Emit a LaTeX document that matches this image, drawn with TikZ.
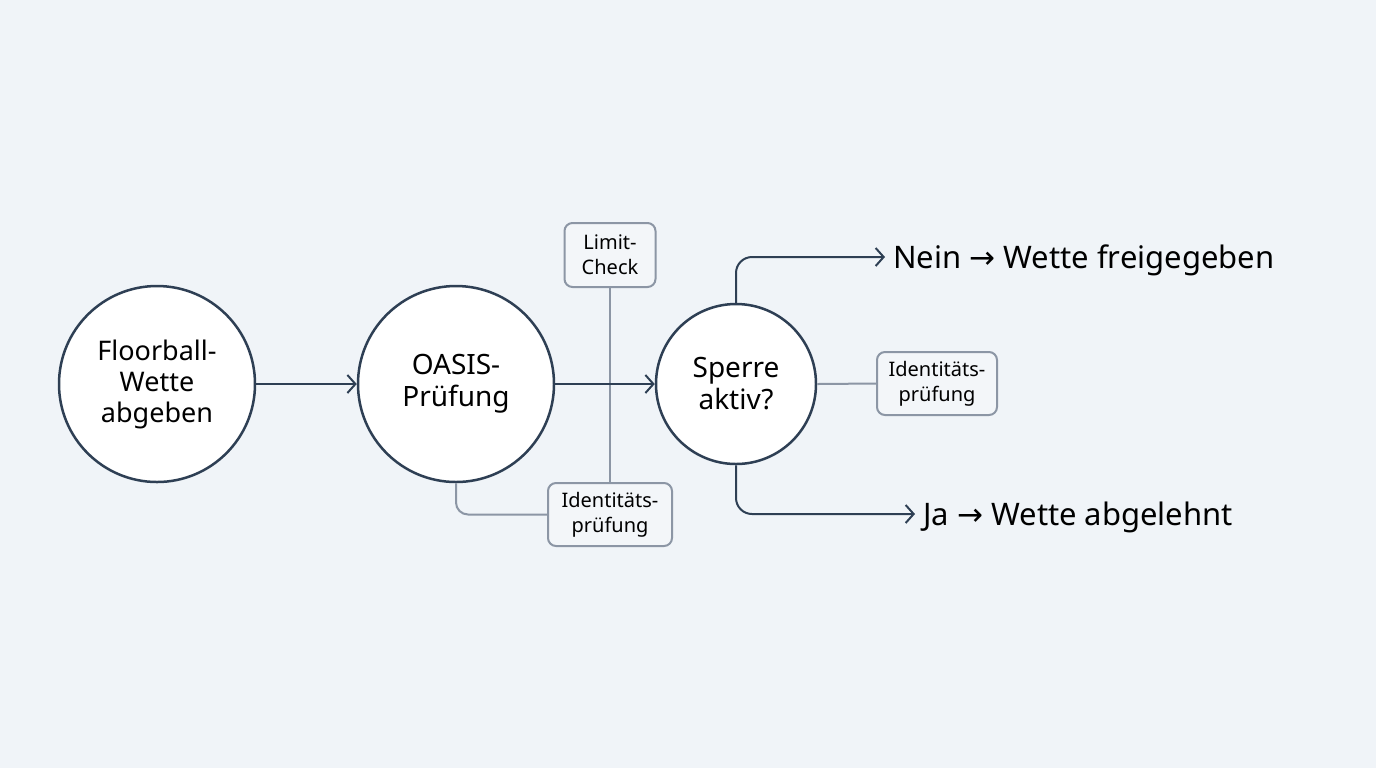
\documentclass[tikz,border=0pt]{standalone}
\usepackage{fontspec}
\setmainfont{Noto Sans}
\newfontfamily\arrowfont{DejaVu Sans}
\usetikzlibrary{arrows.meta}
\definecolor{ink}{HTML}{2E3F54}
\definecolor{wire}{HTML}{8C96A5}
\definecolor{paper}{HTML}{F0F4F8}
\definecolor{boxfill}{HTML}{F3F6F9}
\newcommand{\toarrow}{{\arrowfont →}}

\tikzset{
  stage/.style={circle,draw=ink,line width=1.25pt,fill=white,align=center,font=\fontsize{13.5}{15.5}\selectfont,inner sep=0pt},
  check/.style={draw=wire,line width=1pt,rounded corners=4pt,fill=boxfill,align=center,font=\fontsize{10}{12.5}\selectfont,inner sep=0pt},
  flow/.style={ink,line width=1pt,-{Straight Barb[length=4pt,width=9pt,line width=1pt]}},
  side/.style={wire,line width=1pt},
  result/.style={anchor=west,inner sep=4pt,text depth=0pt,font=\fontsize{15.5}{18}\selectfont}
}

\begin{document}
\begin{tikzpicture}[x=0.5pt,y=-0.5pt,text=black]
  \fill[paper] (0,0) rectangle (1376,768);
  \useasboundingbox (0,0) rectangle (1376,768);
  % stages
  \node[stage,minimum size=98pt] (bet) at (157,384) {Floorball-\\Wette\\abgeben};
  \node[stage,minimum size=98pt,font=\fontsize{14}{16}\selectfont] (oasis) at (456,384) {OASIS-\\Prüfung};
  \node[stage,minimum size=80pt,font=\fontsize{14}{16}\selectfont] (lock) at (736,384) {Sperre\\aktiv?};
  % checks
  \node[check,minimum width=45.5pt,minimum height=32pt] (limit) at (610,255) {Limit-\\Check};
  \node[check,minimum width=62pt,minimum height=31.5pt] (idlow) at (610,514.5) {Identitäts-\\prüfung};
  \node[check,minimum width=60pt,minimum height=31.5pt] (idright) at (937,383.5) {Identitäts-\\prüfung};
  % outcomes
  \node[result] (free) at (885,257) {Nein \toarrow{} Wette freigegeben};
  \node[result] (deny) at (915,514) {Ja \toarrow{} Wette abgelehnt};
  % side links
  \draw[side] (limit) -- (idlow);
  \draw[side,rounded corners=6pt] (oasis.south) |- (idlow.west);
  \draw[side] (lock.east) -- (idright.west);
  % main flow
  \draw[flow] (bet) -- (oasis);
  \draw[flow] (oasis) -- (lock);
  \draw[flow,rounded corners=8pt] (lock.north) |- (free.west);
  \draw[flow,rounded corners=8pt] (lock.south) |- (deny.west);
\end{tikzpicture}
\end{document}
